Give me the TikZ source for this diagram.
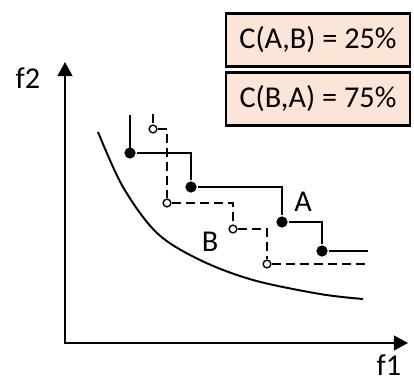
\documentclass[tikz,border=0pt]{standalone}
\usepackage{fontspec}
\setmainfont{Carlito}
\usetikzlibrary{arrows.meta}
\definecolor{peach}{HTML}{FBE5D6}

\begin{document}
\begin{tikzpicture}[x=0.025cm, y=-0.025cm, line width=1.4pt,
    every node/.style={font=\fontsize{21.5}{25}\selectfont},
    dotA/.style={circle, fill=black, inner sep=0pt, minimum size=8pt},
    dotB/.style={circle, draw=black, fill=white, line width=1pt, inner sep=0pt, minimum size=5.5pt},
    dashB/.style={dash pattern=on 6.4pt off 3.6pt},
    ratio/.style={draw, line width=1.6pt, fill=peach, minimum width=4.6cm, minimum height=1.33cm}]
    \useasboundingbox (0,0) rectangle (414,381);

    % Axes
    \coordinate (ytip) at (65,62);
    \coordinate (orig) at (65,343);
    \coordinate (xtip) at (408,343);
    \draw[{Triangle[length=10pt,width=10.5pt]}-{Triangle[length=10pt,width=10.5pt]}] (ytip) -- (orig) -- (xtip);
    \node (f2) at (28,78) {f2};
    \node (f1) at (389,365) {f1};

    % Front curve
    \draw plot[smooth, tension=0.55] coordinates {(98,132) (123,187) (157,233) (200,260) (253,280) (320,294) (363,299)};

    % Set B (dashed)
    \coordinate (btop) at (153,114);
    \coordinate (bend) at (368,264);
    \node[dotB] (b1) at (153,129) {};
    \node[dotB] (b2) at (167,203) {};
    \node[dotB] (b3) at (233,229) {};
    \node[dotB] (b4) at (267,264) {};
    \draw[dashB] (btop) -- (b1);
    \draw[dashB] (b1) -| (b2);
    \draw[dashB] (b2) -| (b3);
    \draw[dashB] (b3) -| (b4);
    \draw[dashB] (b4) -- (bend);
    \node (labB) at (210,242) {B};

    % Set A (solid)
    \coordinate (atop) at (130,115);
    \coordinate (aend) at (368,251);
    \draw (atop) -- (130,153);
    \node[dotA] (a1) at (130,153) {};
    \node[dotA] (a2) at (191,187) {};
    \node[dotA] (a3) at (282,222) {};
    \node[dotA] (a4) at (322,251) {};
    \draw (a1) -| (a2);
    \draw (a2) -| (a3);
    \draw (a3) -| (a4);
    \draw (a4) -- (aend);
    \node (labA) at (303,202) {A};

    % Coverage values
    \node[ratio] (cab) at (318,40) {C(A,B) = 25\%};
    \node[ratio] (cba) at (318,99) {C(B,A) = 75\%};
\end{tikzpicture}
\end{document}
